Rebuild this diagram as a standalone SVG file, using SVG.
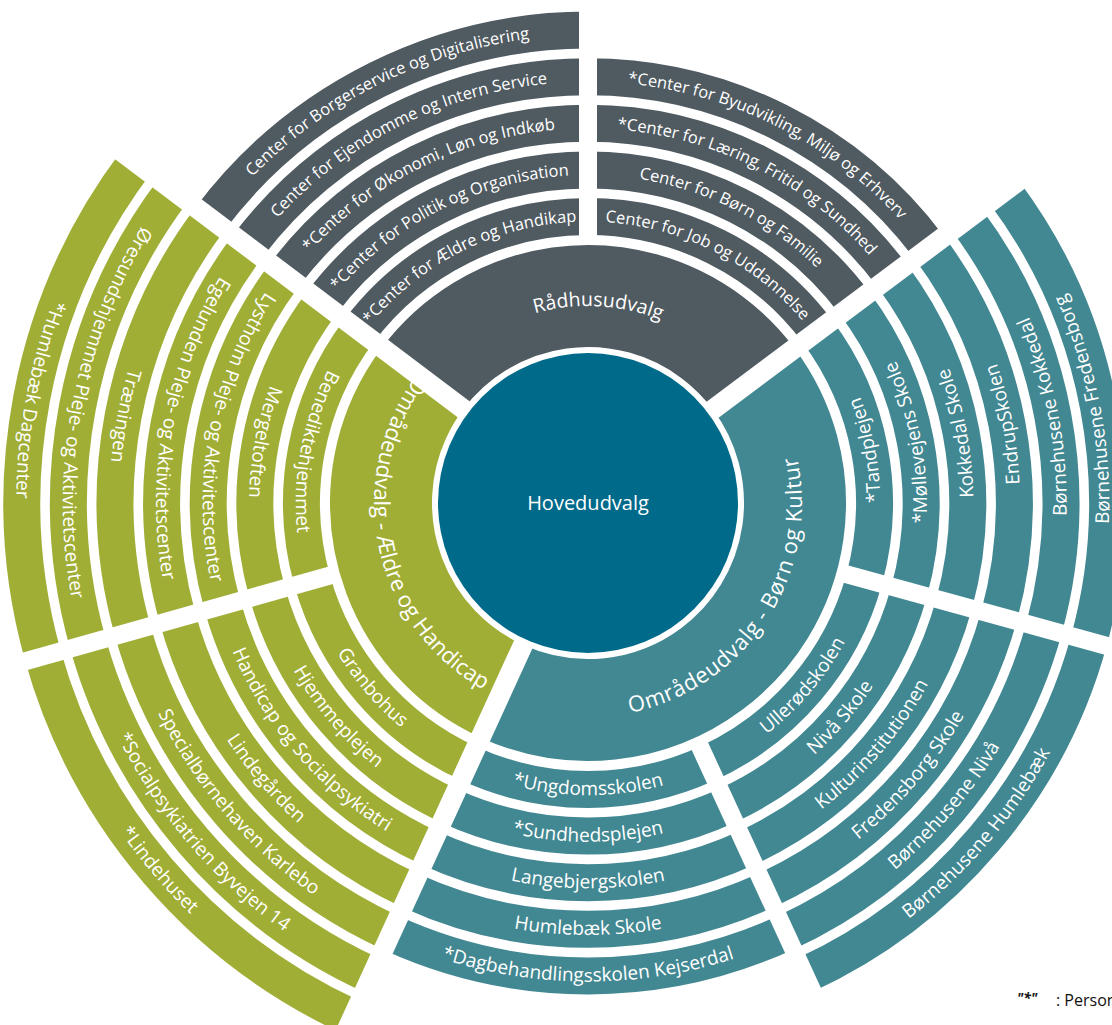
<svg xmlns="http://www.w3.org/2000/svg" xmlns:xlink="http://www.w3.org/1999/xlink" width="1112" height="1025" viewBox="0 0 1112 1025">
<style>
.b{fill:none;stroke-width:37}
.ring{fill:none;stroke-width:102}
.g{stroke:#4f5a61}
.t{stroke:#428892}
.v{stroke:#a1ae36}
text{font-family:"Open Sans","Noto Sans","Liberation Sans",sans-serif;fill:#fff;text-anchor:middle}
.s1{font-size:16.5px}
.s2{font-size:19px}
.s3{font-size:19.5px}
.s4{font-size:22px}
.foot{fill:#111;text-anchor:start}
</style>
<defs>
<mask id="gm" maskUnits="userSpaceOnUse" x="-700" y="-700" width="1400" height="1400">
<rect x="-700" y="-700" width="1400" height="1400" fill="#fff"/>
<g fill="#000">
<rect x="0" y="-10" width="750" height="20" transform="rotate(-143)"/>
<rect x="0" y="-10" width="750" height="20" transform="rotate(-36.8)"/>
<rect x="0" y="-10" width="750" height="20" transform="rotate(114.6)"/>
<rect x="262" y="-9" width="500" height="18" transform="rotate(-90)"/>
<rect x="262" y="-9" width="500" height="18" transform="rotate(15.4)"/>
<rect x="262" y="-9" width="500" height="18" transform="rotate(65.3)"/>
<rect x="262" y="-9" width="500" height="18" transform="rotate(164.3)"/>
</g>
</mask>
<path id="po1" d="M-180.9,-215.6 A281.5 281.5 0 0 1 180.9,-215.6"/>
<path id="po2" d="M-210.9,-251.3 A328.1 328.1 0 0 1 210.9,-251.3"/>
<path id="po3" d="M-240.9,-287.0 A374.7 374.7 0 0 1 240.9,-287.0"/>
<path id="po4" d="M-270.8,-322.7 A421.3 421.3 0 0 1 270.8,-322.7"/>
<path id="po5" d="M-300.8,-358.4 A467.9 467.9 0 0 1 300.8,-358.4"/>
<path id="pi1" d="M-187.8,223.8 A292.2 292.2 0 0 0 187.8,223.8"/>
<path id="pi2" d="M-217.8,259.5 A338.8 338.8 0 0 0 217.8,259.5"/>
<path id="pi3" d="M-247.7,295.2 A385.4 385.4 0 0 0 247.7,295.2"/>
<path id="pi4" d="M-277.7,330.9 A432 432 0 0 0 277.7,330.9"/>
<path id="pi5" d="M-307.6,366.6 A478.6 478.6 0 0 0 307.6,366.6"/>
<path id="pi6" d="M-337.6,402.3 A525.2 525.2 0 0 0 337.6,402.3"/>
<path id="pi6b" d="M-335.0,399.3 A521.2 521.2 0 0 0 335.0,399.3"/>
<path id="pi7" d="M-367.5,438.0 A571.8 571.8 0 0 0 367.5,438.0"/>
<path id="pr" d="M-150.9,-126.6 A197 197 0 0 1 150.9,-126.6"/>
<path id="pq" d="M-185.3,107 A214 214 0 0 0 185.3,107"/>
</defs>
<rect width="1112" height="1025" fill="#fff"/>
<g transform="translate(588,503)">
<!-- Rådhus -->
<g id="raadhusudvalg"><g mask="url(#gm)"><circle class="ring g" r="207" transform="rotate(-143)" stroke-dasharray="383.7 4000"/></g><text class="s3" transform="rotate(3)"><textPath href="#pr" xlink:href="#pr" startOffset="50%">Rådhusudvalg</textPath></text></g>
<g id="r-aeldre-handikap"><g mask="url(#gm)"><circle class="b g" r="286.5" transform="rotate(-143)" stroke-dasharray="265 4000"/></g><text class="s1" transform="rotate(-26.5)"><textPath href="#po1" xlink:href="#po1" startOffset="50%">*Center for Ældre og Handikap</textPath></text></g>
<g id="r-politik"><g mask="url(#gm)"><circle class="b g" r="333.1" transform="rotate(-143)" stroke-dasharray="308.1 4000"/></g><text class="s1" transform="rotate(-26.5)"><textPath href="#po2" xlink:href="#po2" startOffset="50%">*Center for Politik og Organisation</textPath></text></g>
<g id="r-oekonomi"><g mask="url(#gm)"><circle class="b g" r="379.7" transform="rotate(-143)" stroke-dasharray="351.2 4000"/></g><text class="s1" transform="rotate(-26.5)"><textPath href="#po3" xlink:href="#po3" startOffset="50%">*Center for Økonomi, Løn og Indkøb</textPath></text></g>
<g id="r-ejendomme"><g mask="url(#gm)"><circle class="b g" r="426.3" transform="rotate(-143)" stroke-dasharray="394.3 4000"/></g><text class="s1" transform="rotate(-26.5)"><textPath href="#po4" xlink:href="#po4" startOffset="50%">Center for Ejendomme og Intern Service</textPath></text></g>
<g id="r-borgerservice"><g mask="url(#gm)"><circle class="b g" r="472.9" transform="rotate(-143)" stroke-dasharray="437.4 4000"/></g><text class="s1" transform="rotate(-26.5)"><textPath href="#po5" xlink:href="#po5" startOffset="50%">Center for Borgerservice og Digitalisering</textPath></text></g>
<g id="r-job"><g mask="url(#gm)"><circle class="b g" r="286.5" transform="rotate(-90)" stroke-dasharray="266 4000"/></g><text class="s1" transform="rotate(26.6)"><textPath href="#po1" xlink:href="#po1" startOffset="50%">Center for Job og Uddannelse</textPath></text></g>
<g id="r-boern-familie"><g mask="url(#gm)"><circle class="b g" r="333.1" transform="rotate(-90)" stroke-dasharray="309.3 4000"/></g><text class="s1" transform="rotate(26.6)"><textPath href="#po2" xlink:href="#po2" startOffset="50%">Center for Børn og Familie</textPath></text></g>
<g id="r-laering"><g mask="url(#gm)"><circle class="b g" r="379.7" transform="rotate(-90)" stroke-dasharray="352.6 4000"/></g><text class="s1" transform="rotate(26.6)"><textPath href="#po3" xlink:href="#po3" startOffset="50%">*Center for Læring, Fritid og Sundhed</textPath></text></g>
<g id="r-byudvikling"><g mask="url(#gm)"><circle class="b g" r="426.3" transform="rotate(-90)" stroke-dasharray="395.8 4000"/></g><text class="s1" transform="rotate(26.6)"><textPath href="#po4" xlink:href="#po4" startOffset="50%">*Center for Byudvikling, Miljø og Erhverv</textPath></text></g>
<!-- Børn og Kultur -->
<g id="boern-kultur"><g mask="url(#gm)"><circle class="ring t" r="207" transform="rotate(-36.8)" stroke-dasharray="547 4000"/></g><text class="s4" letter-spacing="0.7" transform="rotate(-57)"><textPath href="#pq" xlink:href="#pq" startOffset="50%">Områdeudvalg - Børn og Kultur</textPath></text></g>
<g id="b-tandplejen"><g mask="url(#gm)"><circle class="b t" r="286.5" transform="rotate(-36.8)" stroke-dasharray="261 4000"/></g><text class="s2" transform="rotate(-100.7)"><textPath href="#pi1" xlink:href="#pi1" startOffset="50%">*Tandplejen</textPath></text></g>
<g id="b-moellevejen"><g mask="url(#gm)"><circle class="b t" r="333.1" transform="rotate(-36.8)" stroke-dasharray="303.5 4000"/></g><text class="s2" transform="rotate(-100.7)"><textPath href="#pi2" xlink:href="#pi2" startOffset="50%">*Møllevejens Skole</textPath></text></g>
<g id="b-kokkedal-skole"><g mask="url(#gm)"><circle class="b t" r="379.7" transform="rotate(-36.8)" stroke-dasharray="345.9 4000"/></g><text class="s2" transform="rotate(-100.7)"><textPath href="#pi3" xlink:href="#pi3" startOffset="50%">Kokkedal Skole</textPath></text></g>
<g id="b-endrup"><g mask="url(#gm)"><circle class="b t" r="426.3" transform="rotate(-36.8)" stroke-dasharray="388.4 4000"/></g><text class="s2" transform="rotate(-100.7)"><textPath href="#pi4" xlink:href="#pi4" startOffset="50%">EndrupSkolen</textPath></text></g>
<g id="b-bh-kokkedal"><g mask="url(#gm)"><circle class="b t" r="472.9" transform="rotate(-36.8)" stroke-dasharray="430.8 4000"/></g><text class="s2" transform="rotate(-100.7)"><textPath href="#pi5" xlink:href="#pi5" startOffset="50%">Børnehusene Kokkedal</textPath></text></g>
<g id="b-bh-fredensborg"><g mask="url(#gm)"><circle class="b t" r="519.5" transform="rotate(-36.8)" stroke-dasharray="473.3 4000"/></g><text class="s2" transform="rotate(-100.7)"><textPath href="#pi6b" xlink:href="#pi6b" startOffset="50%">Børnehusene Fredensborg</textPath></text></g>
<g id="b-ulleroed"><g mask="url(#gm)"><circle class="b t" r="286.5" transform="rotate(15.4)" stroke-dasharray="249.5 4000"/></g><text class="s2" transform="rotate(-49.65)"><textPath href="#pi1" xlink:href="#pi1" startOffset="50%">Ullerødskolen</textPath></text></g>
<g id="b-nivaa-skole"><g mask="url(#gm)"><circle class="b t" r="333.1" transform="rotate(15.4)" stroke-dasharray="290.1 4000"/></g><text class="s2" transform="rotate(-49.65)"><textPath href="#pi2" xlink:href="#pi2" startOffset="50%">Nivå Skole</textPath></text></g>
<g id="b-kultur"><g mask="url(#gm)"><circle class="b t" r="379.7" transform="rotate(15.4)" stroke-dasharray="330.7 4000"/></g><text class="s2" transform="rotate(-49.65)"><textPath href="#pi3" xlink:href="#pi3" startOffset="50%">Kulturinstitutionen</textPath></text></g>
<g id="b-fredensborg-skole"><g mask="url(#gm)"><circle class="b t" r="426.3" transform="rotate(15.4)" stroke-dasharray="371.3 4000"/></g><text class="s2" transform="rotate(-49.65)"><textPath href="#pi4" xlink:href="#pi4" startOffset="50%">Fredensborg Skole</textPath></text></g>
<g id="b-bh-nivaa"><g mask="url(#gm)"><circle class="b t" r="472.9" transform="rotate(15.4)" stroke-dasharray="411.9 4000"/></g><text class="s2" transform="rotate(-49.65)"><textPath href="#pi5" xlink:href="#pi5" startOffset="50%">Børnehusene Nivå</textPath></text></g>
<g id="b-bh-humlebaek"><g mask="url(#gm)"><circle class="b t" r="519.5" transform="rotate(15.4)" stroke-dasharray="452.4 4000"/></g><text class="s2" transform="rotate(-49.65)"><textPath href="#pi6" xlink:href="#pi6" startOffset="50%">Børnehusene Humlebæk</textPath></text></g>
<g id="b-ungdomsskolen"><g mask="url(#gm)"><circle class="b t" r="286.5" transform="rotate(65.3)" stroke-dasharray="246.5 4000"/></g><text class="s2"><textPath href="#pi1" xlink:href="#pi1" startOffset="50%">*Ungdomsskolen</textPath></text></g>
<g id="b-sundhedsplejen"><g mask="url(#gm)"><circle class="b t" r="333.1" transform="rotate(65.3)" stroke-dasharray="286.6 4000"/></g><text class="s2"><textPath href="#pi2" xlink:href="#pi2" startOffset="50%">*Sundhedsplejen</textPath></text></g>
<g id="b-langebjerg"><g mask="url(#gm)"><circle class="b t" r="379.7" transform="rotate(65.3)" stroke-dasharray="326.7 4000"/></g><text class="s2"><textPath href="#pi3" xlink:href="#pi3" startOffset="50%">Langebjergskolen</textPath></text></g>
<g id="b-humlebaek-skole"><g mask="url(#gm)"><circle class="b t" r="426.3" transform="rotate(65.3)" stroke-dasharray="366.8 4000"/></g><text class="s2"><textPath href="#pi4" xlink:href="#pi4" startOffset="50%">Humlebæk Skole</textPath></text></g>
<g id="b-kejserdal"><g mask="url(#gm)"><circle class="b t" r="472.9" transform="rotate(65.3)" stroke-dasharray="406.9 4000"/></g><text class="s2"><textPath href="#pi5" xlink:href="#pi5" startOffset="50%">*Dagbehandlingsskolen Kejserdal</textPath></text></g>
<!-- Ældre og Handicap -->
<g id="aeldre-handicap"><g mask="url(#gm)"><circle class="ring v" r="207" transform="rotate(114.6)" stroke-dasharray="370 4000"/></g><text class="s4" transform="rotate(78)"><textPath href="#pq" xlink:href="#pq" startOffset="50%">Områdeudvalg - Ældre og Handicap</textPath></text></g>
<g id="a-granbohus"><g mask="url(#gm)"><circle class="b v" r="286.5" transform="rotate(114.6)" stroke-dasharray="248.5 4000"/></g><text class="s2" transform="rotate(49.45)"><textPath href="#pi1" xlink:href="#pi1" startOffset="50%">Granbohus</textPath></text></g>
<g id="a-hjemmeplejen"><g mask="url(#gm)"><circle class="b v" r="333.1" transform="rotate(114.6)" stroke-dasharray="288.9 4000"/></g><text class="s2" transform="rotate(49.45)"><textPath href="#pi2" xlink:href="#pi2" startOffset="50%">Hjemmeplejen</textPath></text></g>
<g id="a-handicap-social"><g mask="url(#gm)"><circle class="b v" r="379.7" transform="rotate(114.6)" stroke-dasharray="329.4 4000"/></g><text class="s2" transform="rotate(49.45)"><textPath href="#pi3" xlink:href="#pi3" startOffset="50%">Handicap og Socialpsykiatri</textPath></text></g>
<g id="a-lindegaarden"><g mask="url(#gm)"><circle class="b v" r="426.3" transform="rotate(114.6)" stroke-dasharray="369.8 4000"/></g><text class="s2" transform="rotate(49.45)"><textPath href="#pi4" xlink:href="#pi4" startOffset="50%">Lindegården</textPath></text></g>
<g id="a-karlebo"><g mask="url(#gm)"><circle class="b v" r="472.9" transform="rotate(114.6)" stroke-dasharray="410.2 4000"/></g><text class="s2" transform="rotate(49.45)"><textPath href="#pi5" xlink:href="#pi5" startOffset="50%">Specialbørnehaven Karlebo</textPath></text></g>
<g id="a-byvejen"><g mask="url(#gm)"><circle class="b v" r="519.5" transform="rotate(114.6)" stroke-dasharray="450.6 4000"/></g><text class="s2" transform="rotate(49.45)"><textPath href="#pi6" xlink:href="#pi6" startOffset="50%">*Socialpsykiatrien Byvejen 14</textPath></text></g>
<g id="a-lindehuset"><g mask="url(#gm)"><circle class="b v" r="566.1" transform="rotate(114.6)" stroke-dasharray="491.1 4000"/></g><text class="s2" transform="rotate(49.45)"><textPath href="#pi7" xlink:href="#pi7" startOffset="50%">*Lindehuset</textPath></text></g>
<g id="a-benedikte"><g mask="url(#gm)"><circle class="b v" r="286.5" transform="rotate(164.3)" stroke-dasharray="263.5 4000"/></g><text class="s2" transform="rotate(100.65)"><textPath href="#pi1" xlink:href="#pi1" startOffset="50%">Benediktehjemmet</textPath></text></g>
<g id="a-mergeltoften"><g mask="url(#gm)"><circle class="b v" r="333.1" transform="rotate(164.3)" stroke-dasharray="306.4 4000"/></g><text class="s2" transform="rotate(100.65)"><textPath href="#pi2" xlink:href="#pi2" startOffset="50%">Mergeltoften</textPath></text></g>
<g id="a-lystholm"><g mask="url(#gm)"><circle class="b v" r="379.7" transform="rotate(164.3)" stroke-dasharray="349.2 4000"/></g><text class="s2" transform="rotate(100.65)"><textPath href="#pi3" xlink:href="#pi3" startOffset="50%">Lystholm Pleje- og Aktivitetscenter</textPath></text></g>
<g id="a-egelunden"><g mask="url(#gm)"><circle class="b v" r="426.3" transform="rotate(164.3)" stroke-dasharray="392.1 4000"/></g><text class="s2" transform="rotate(100.65)"><textPath href="#pi4" xlink:href="#pi4" startOffset="50%">Egelunden Pleje- og Aktivitetscenter</textPath></text></g>
<g id="a-traeningen"><g mask="url(#gm)"><circle class="b v" r="472.9" transform="rotate(164.3)" stroke-dasharray="435 4000"/></g><text class="s2" transform="rotate(100.65)"><textPath href="#pi5" xlink:href="#pi5" startOffset="50%">Træningen</textPath></text></g>
<g id="a-oeresund"><g mask="url(#gm)"><circle class="b v" r="519.5" transform="rotate(164.3)" stroke-dasharray="477.8 4000"/></g><text class="s2" transform="rotate(100.65)"><textPath href="#pi6" xlink:href="#pi6" startOffset="50%">Øresundshjemmet Pleje- og Aktivitetscenter</textPath></text></g>
<g id="a-dagcenter"><g mask="url(#gm)"><circle class="b v" r="566.1" transform="rotate(164.3)" stroke-dasharray="520.7 4000"/></g><text class="s2" transform="rotate(100.65)"><textPath href="#pi7" xlink:href="#pi7" startOffset="50%">*Humlebæk Dagcenter</textPath></text></g>
<!-- centre -->
<g id="hovedudvalg"><circle r="150" fill="#006a8a"/><text x="0" y="7" font-size="20">Hovedudvalg</text></g>
<g id="connectors"/>
</g>
<g id="footnote"><text class="foot" x="1017" y="1003" font-size="14" font-style="italic" font-weight="bold">"*"</text><text class="foot" x="1056" y="1006" font-size="16">: Person</text></g>
</svg>
